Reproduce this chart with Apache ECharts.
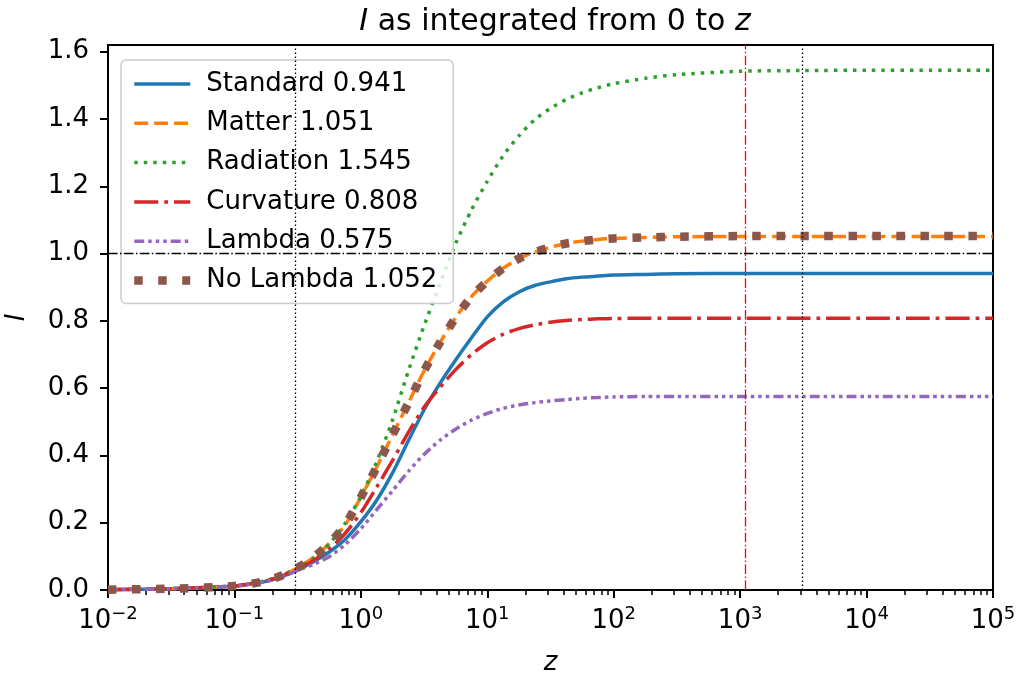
<!DOCTYPE html>
<html>
<head>
<meta charset="utf-8">
<script src="https://cdn.jsdelivr.net/npm/echarts@6/dist/echarts.min.js"></script>
<style>
  html, body { margin: 0; padding: 0; background: #fff; }
  #chart { width: 1019px; height: 675px; }
</style>
</head>
<body>
<div id="chart"></div>
<script>
// z values (redshift) the curves were read at
const zValues = [0.01, 0.0316, 0.1, 0.178, 0.237, 0.316, 0.422, 0.562, 0.750, 1, 1.33, 1.78, 2.37, 3.16, 4.22, 5.62, 7.50, 10, 13.3, 17.8, 23.7, 31.6, 42.2, 56.2, 75.0, 100, 178, 316, 1000, 3160, 10000, 31600, 100000]

const standard = [0.001, 0.004, 0.012, 0.026, 0.040, 0.060, 0.084, 0.113, 0.150, 0.203, 0.266, 0.348, 0.443, 0.535, 0.614, 0.684, 0.750, 0.812, 0.856, 0.886, 0.905, 0.916, 0.925, 0.930, 0.933, 0.936, 0.938, 0.940, 0.941, 0.941, 0.941, 0.941, 0.941]
const matter = [0.001, 0.004, 0.012, 0.027, 0.043, 0.066, 0.097, 0.138, 0.193, 0.276, 0.364, 0.461, 0.555, 0.651, 0.735, 0.810, 0.872, 0.918, 0.956, 0.985, 1.004, 1.019, 1.030, 1.037, 1.042, 1.045, 1.048, 1.050, 1.051, 1.051, 1.051, 1.051, 1.051]
const radiation = [0.001, 0.004, 0.013, 0.028, 0.044, 0.065, 0.095, 0.137, 0.198, 0.278, 0.380, 0.505, 0.650, 0.785, 0.910, 1.030, 1.130, 1.215, 1.290, 1.350, 1.398, 1.432, 1.458, 1.478, 1.493, 1.505, 1.521, 1.532, 1.542, 1.544, 1.545, 1.545, 1.545]
const curvature = [0.001, 0.004, 0.012, 0.027, 0.042, 0.062, 0.088, 0.122, 0.168, 0.230, 0.305, 0.385, 0.468, 0.543, 0.602, 0.655, 0.700, 0.735, 0.760, 0.777, 0.788, 0.796, 0.801, 0.804, 0.806, 0.807, 0.808, 0.808, 0.808, 0.808, 0.808, 0.808, 0.808]
const lambda = [0.001, 0.004, 0.011, 0.025, 0.039, 0.058, 0.076, 0.099, 0.135, 0.182, 0.238, 0.295, 0.352, 0.403, 0.445, 0.478, 0.505, 0.525, 0.540, 0.550, 0.557, 0.562, 0.566, 0.570, 0.572, 0.574, 0.575, 0.575, 0.575, 0.575, 0.575, 0.575, 0.575]
const noLambda = [0.001, 0.004, 0.012, 0.027, 0.043, 0.066, 0.097, 0.138, 0.193, 0.276, 0.364, 0.461, 0.555, 0.651, 0.735, 0.810, 0.872, 0.918, 0.956, 0.985, 1.004, 1.019, 1.030, 1.037, 1.042, 1.045, 1.048, 1.050, 1.052, 1.052, 1.052, 1.052, 1.052]

const seriesNames = ['Standard 0.941', 'Matter 1.051', 'Radiation 1.545', 'Curvature 0.808', 'Lambda 0.575', 'No Lambda 1.052']

// tick positions / labels
const xMajorTicks = [0.01, 0.1, 1, 10, 100, 1000, 10000, 100000]
const xTickExponents = ['−2', '−1', '0', '1', '2', '3', '4', '5']
const yTicks = [0, 0.2, 0.4, 0.6, 0.8, 1.0, 1.2, 1.4, 1.6]

// reference lines
const vLines = [0.3, 1100, 3100]
const hLine = 1.0

const xMinorTicks = []
for (let d = -2; d < 5; d++) {
  for (let k = 2; k <= 9; k++) xMinorTicks.push(k * Math.pow(10, d))
}

const pairs = (ys) => zValues.map((z, i) => [z, ys[i]])

const chart = echarts.init(document.getElementById('chart'))
const font = 'DejaVu Sans'
const fs = 26
const lw = 3.5

function line(name, ys, color, type, width, extra) {
  return Object.assign({
    name: name,
    type: 'line',
    data: pairs(ys),
    smooth: 0.25,
    symbol: 'none',
    lineStyle: { color: color, width: width, type: type, cap: 'butt' },
    itemStyle: { color: color },
    emphasis: { disabled: true },
    animation: false
  }, extra || {})
}

chart.setOption({
  backgroundColor: '#fff',
  textStyle: { fontFamily: font },
  title: {
    text: '{i|I} as integrated from 0 to {i|z}',
    left: 550,
    textAlign: 'center',
    top: 2,
    textStyle: {
      fontFamily: font, fontSize: 30, fontWeight: 'normal', color: '#000',
      rich: { i: { fontFamily: font, fontSize: 30, fontStyle: 'italic', color: '#000' } }
    }
  },
  grid: {
    left: 108, right: 26, top: 45, bottom: 85,
    outerBoundsMode: 'none',
    containLabel: false,
    show: true, borderColor: '#000', borderWidth: 2, backgroundColor: 'transparent'
  },
  legend: {
    left: 121, top: 60,
    orient: 'vertical',
    itemWidth: 56, itemHeight: 14, itemGap: 13.3,
    padding: [11, 16, 10, 9],
    backgroundColor: 'rgba(255,255,255,0.8)',
    borderColor: '#cccccc', borderWidth: 1.5, borderRadius: 5,
    itemStyle: { color: 'rgba(0,0,0,0)', borderWidth: 0, opacity: 0 },
    lineStyle: { width: 'inherit', type: 'inherit', cap: 'butt' },
    textStyle: { fontFamily: font, fontSize: fs, color: '#000', lineHeight: 26, padding: [0, 0, 0, 11] },
    data: seriesNames,
    selectedMode: false
  },
  xAxis: [{
    type: 'log', logBase: 10, min: 0.01, max: 100000,
    name: 'z', nameLocation: 'middle', nameGap: 60,
    nameTextStyle: { fontFamily: font, fontSize: fs, fontStyle: 'italic', color: '#000' },
    axisLine: { show: true, lineStyle: { color: '#000', width: 2 } },
    axisTick: { show: true, inside: false, length: 8, lineStyle: { color: '#000', width: 2 }, customValues: xMajorTicks },
    axisLabel: {
      margin: 15,
      customValues: xMajorTicks,
      formatter: (v) => {
        const i = xMajorTicks.findIndex(t => Math.abs(Math.log10(t) - Math.log10(v)) < 1e-6)
        return '{b|10}{s|' + xTickExponents[i] + '}'
      },
      rich: {
        b: { fontFamily: font, fontSize: fs, color: '#000' },
        s: { fontFamily: font, fontSize: 18, color: '#000', padding: [0, 0, 14, 0] }
      }
    },
    splitLine: { show: false },
    minorTick: { show: false }
  }, {
    type: 'log', logBase: 10, min: 0.01, max: 100000, position: 'bottom',
    axisLine: { show: false },
    axisTick: { show: true, inside: false, length: 5, lineStyle: { color: '#000', width: 1.5 }, customValues: xMinorTicks },
    axisLabel: { show: false },
    splitLine: { show: false }
  }],
  yAxis: {
    type: 'value', min: 0, max: 1.62,
    name: 'I', nameLocation: 'middle', nameGap: 78,
    nameTextStyle: { fontFamily: font, fontSize: fs, fontStyle: 'italic', color: '#000' },
    axisLine: { show: true, lineStyle: { color: '#000', width: 2 } },
    axisTick: { show: true, inside: false, length: 8, lineStyle: { color: '#000', width: 2 }, customValues: yTicks },
    axisLabel: {
      margin: 19, customValues: yTicks,
      fontFamily: font, fontSize: fs, color: '#000',
      formatter: (v) => v.toFixed(1)
    },
    splitLine: { show: false }
  },
  series: [
    line(seriesNames[0], standard, '#1f77b4', 'solid', lw, {
      markLine: {
        silent: true, symbol: 'none', animation: false,
        label: { show: false },
        data: [
          { xAxis: vLines[0], lineStyle: { color: '#000', width: 1.3, type: [1.5, 2.5] } },
          { xAxis: vLines[1], lineStyle: { color: '#ff0000', width: 1.3, type: [9.6, 2.4, 1.5, 2.4] } },
          { xAxis: vLines[2], lineStyle: { color: '#000', width: 1.3, type: [1.5, 2.5] } },
          { yAxis: hLine, lineStyle: { color: '#000', width: 1.3, type: [9.6, 2.4, 1.5, 2.4] } }
        ]
      }
    }),
    line(seriesNames[1], matter, '#ff7f0e', [13.9, 6], lw),
    line(seriesNames[2], radiation, '#2ca02c', [3.5, 6], lw),
    line(seriesNames[3], curvature, '#d62728', [24, 6, 3.75, 6], lw),
    line(seriesNames[4], lambda, '#9467bd', [10, 4, 3.5, 4, 3.5, 4, 3.5, 4], lw),
    line(seriesNames[5], noLambda, '#8c564b', [8.5, 15.5], 8.5)
  ]
})
</script>
</body>
</html>
